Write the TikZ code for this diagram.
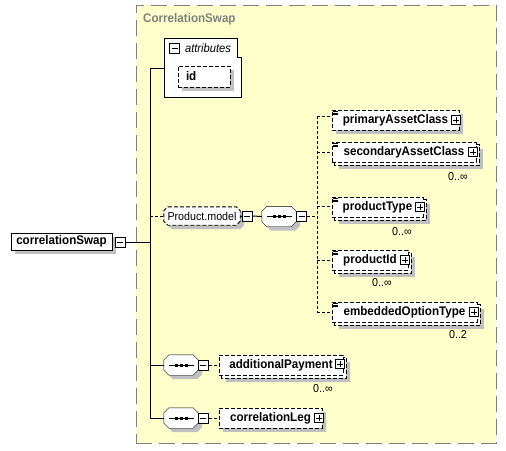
\documentclass[tikz,border=0pt]{standalone}
\usepackage{fontspec}
\setmainfont{Liberation Sans}
\newfontfamily\dfont[FakeStretch=0.93]{Liberation Sans}
\definecolor{ybg}{HTML}{FFFFCC}
\definecolor{ybd}{HTML}{808080}
\definecolor{shc}{HTML}{C0C0C0}
\pgfdeclarelayer{bgl}\pgfdeclarelayer{shl}\pgfdeclarelayer{bkl}
\pgfsetlayers{bgl,shl,bkl,main}
\newcommand{\octo}[2]{([xshift=#2]#1.north west) -- ([xshift=-#2]#1.north east) -- ([yshift=-#2]#1.north east) -- ([yshift=#2]#1.south east) -- ([xshift=-#2]#1.south east) -- ([xshift=#2]#1.south west) -- ([yshift=#2]#1.south west) -- ([yshift=-#2]#1.north west) -- cycle}
\newcommand{\boxshadow}[1]{\begin{pgfonlayer}{shl}\fill[shc] ([shift={(4pt,-4pt)}]#1.north west) rectangle ([shift={(4pt,-4pt)}]#1.south east);\end{pgfonlayer}}
\newcommand{\multiback}[1]{\begin{pgfonlayer}{shl}\fill[shc] ([shift={(7pt,-7pt)}]#1.north west) rectangle ([shift={(7pt,-7pt)}]#1.south east);\end{pgfonlayer}\begin{pgfonlayer}{bkl}\draw[fill=white, line width=0.9pt, dash pattern=on 4pt off 2pt] ([shift={(3pt,-3pt)}]#1.north west) rectangle ([shift={(3pt,-3pt)}]#1.south east);\end{pgfonlayer}}
\newcommand{\seqsym}[1]{\draw[line width=0.9pt] ([xshift=-12.5pt]#1.center) -- ([xshift=12.5pt]#1.center); \foreach \dx in {-5,0,5} \fill ([shift={(\dx pt-1.5pt,-1.5pt)}]#1.center) rectangle ([shift={(\dx pt+1.5pt,1.5pt)}]#1.center);}
\newcommand{\eqicon}[1]{\foreach \dy in {1.7,3.4,5.1} \draw[line width=0.6pt, solid] ([shift={(1.5pt,-\dy pt)}]#1.north west) -- ++(5,0);}
\newcommand{\octshadow}[2]{\begin{pgfonlayer}{shl}\fill[shc, transform canvas={shift={(4pt,-4pt)}}] \octo{#1}{#2};\end{pgfonlayer}}
\begin{document}
\begin{tikzpicture}[x=1pt,y=-1pt,line width=1pt,
  ebox/.style={draw, fill=white, inner sep=0pt, line width=0.9pt, font=\dfont\fontsize{12.5}{14}\selectfont\bfseries, dash pattern=on 4pt off 2pt},
  sbox/.style={draw, fill=white, inner sep=0pt, font=\dfont\fontsize{12.5}{14}\selectfont\bfseries},
  icbase/.style={draw, solid, fill=white, inner sep=0pt, minimum size=9pt, line width=1pt},
  minusic/.style={icbase, minimum size=10pt, path picture={\draw[line width=1pt] ([xshift=2pt]path picture bounding box.west) -- ([xshift=-2pt]path picture bounding box.east);}},
  plusic/.style={icbase, path picture={\draw[line width=1pt] ([xshift=1.8pt]path picture bounding box.west) -- ([xshift=-1.8pt]path picture bounding box.east); \draw[line width=1pt] ([yshift=-1.8pt]path picture bounding box.north) -- ([yshift=1.8pt]path picture bounding box.south);}},
  seqn/.style={minimum width=34pt, minimum height=20pt, inner sep=0pt},
  conn/.style={line width=1pt},
  dconn/.style={line width=0.9pt, dash pattern=on 3pt off 2pt},
  mult/.style={font=\dfont\fontsize{11.5}{13}\selectfont, inner sep=0pt}
]
\begin{pgfonlayer}{bgl}
\fill[white] (0,0) rectangle (506,450);
\node[draw=ybd, fill=ybg, dash pattern=on 16pt off 7pt, line width=1pt, minimum width=360pt, minimum height=438pt, inner sep=0pt] (grp) at (316,224) {};
\draw[fill=white] (164,38) -- (237,38) -- (237,57) -- (241,57) -- (241,97) -- (164,97) -- cycle;
\end{pgfonlayer}
\useasboundingbox (0,0) rectangle (506,450);

\node[anchor=west, text=ybd, font=\dfont\fontsize{12.5}{14}\selectfont\bfseries, inner sep=0pt] (ttl) at (143,19) {CorrelationSwap};

% root
\node[sbox, minimum width=101pt, minimum height=17pt] (cs) at (61.5,241.5) {correlationSwap};
\boxshadow{cs}
\node[minusic] (csm) at (120,242) {};

% attributes
\node[font=\dfont\fontsize{12}{14}\selectfont\itshape, inner sep=0pt] (attr) at (208,48) {attributes};
\node[minusic] (attrm) at (174.5,48.5) {};
\node[ebox, minimum height=21pt, text width=36pt, align=left, inner xsep=8pt] (id) at (204,76.5) {id};
\boxshadow{id}

% Product.model group
\node[minimum width=76pt, minimum height=18pt, inner sep=0pt] (pm) at (202,216) {};
\octshadow{pm}{4pt}
\draw[fill=white, line width=0.9pt, dash pattern=on 4pt off 2pt] \octo{pm}{4pt};
\node[font=\dfont\fontsize{11.5}{13}\selectfont, inner sep=0pt] (pmt) at (pm.center) {Product.model};
\node[minusic] (pmm) at (247,216) {};

\node[seqn] (sq1) at (279,216.5) {};
\octshadow{sq1}{5pt}
\draw[fill=white] \octo{sq1}{5pt};
\seqsym{sq1}
\node[minusic] (sq1m) at (301.5,216.5) {};

% children of sequence
\node[ebox, minimum width=127pt, minimum height=20pt] (pac) at (395.5,120) {primaryAssetClass};
\boxshadow{pac}
\eqicon{pac}
\node[plusic] (pacp) at (456,120) {};

\node[ebox, minimum width=144pt, minimum height=20pt] (sac) at (404,152) {secondaryAssetClass};
\multiback{sac}
\eqicon{sac}
\node[plusic] (sacp) at (473,152) {};
\node[mult] (sacl) at (458,177) {0..∞};

\node[ebox, minimum width=91pt, minimum height=20pt] (pt) at (377.5,207) {productType};
\multiback{pt}
\eqicon{pt}
\node[plusic] (ptp) at (420,207) {};
\node[mult] (ptl) at (402,232) {0..∞};

\node[ebox, minimum width=76pt, minimum height=20pt] (pid) at (370,260) {productId};
\multiback{pid}
\eqicon{pid}
\node[plusic] (pidp) at (405,260) {};
\node[mult] (pidl) at (382,283) {0..∞};

\node[ebox, minimum width=145pt, minimum height=20pt] (eot) at (404.5,312) {embeddedOptionType};
\multiback{eot}
\eqicon{eot}
\node[plusic] (eotp) at (474,312) {};
\node[mult] (eotl) at (458,335) {0..2};

% additionalPayment
\node[seqn] (sq2) at (181,365) {};
\octshadow{sq2}{5pt}
\draw[fill=white] \octo{sq2}{5pt};
\seqsym{sq2}
\node[minusic] (sq2m) at (203,365) {};
\node[ebox, minimum width=124pt, minimum height=20pt] (ap) at (281,365) {additionalPayment};
\multiback{ap}
\node[plusic] (app) at (340,364) {};
\node[mult] (apl) at (323,389) {0..∞};

% correlationLeg
\node[seqn] (sq3) at (181,418) {};
\octshadow{sq3}{5pt}
\draw[fill=white] \octo{sq3}{5pt};
\seqsym{sq3}
\node[minusic] (sq3m) at (203,418) {};
\node[ebox, minimum width=103pt, minimum height=20pt] (cl) at (270.5,418) {correlationLeg};
\boxshadow{cl}
\node[plusic] (clp) at (319,418) {};

% connectors
\coordinate (attrL) at (164,68);
\coordinate (spTop) at (150,68);
\coordinate (spMid) at (150,242);
\coordinate (spBot) at (150,418);
\coordinate (vTop) at (317,116);
\coordinate (vBot) at (317,312);
\draw[conn] (attrL) -- (spTop) -- (spBot) -- (sq3.west);
\draw[conn] (csm.east) -- (spMid);
\draw[dconn] (spMid |- pm.west) -- (pm.west);
\draw[conn] (pm.east) -- (pmm.west);
\draw[conn] (pmm.east) -- (sq1.west);
\draw[dconn] (sq1m.east) -- (vTop |- sq1m.east);
\draw[dconn] (vTop) -- (vBot);
\coordinate (pacin) at ([yshift=4pt]pac.west);
\draw[dconn] (vTop |- pacin) -- (pacin);
\draw[dconn] (vTop |- sac.west) -- (sac.west);
\coordinate (ptin) at ([yshift=1pt]pt.west);
\draw[dconn] (vTop |- ptin) -- (ptin);
\draw[dconn] (vTop |- pid.west) -- (pid.west);
\draw[dconn] (vTop |- eot.west) -- (eot.west);
\draw[conn] (spTop |- sq2.west) -- (sq2.west);
\draw[dconn] (sq2m.east) -- (ap.west);
\draw[dconn] (sq3m.east) -- (cl.west);
\end{tikzpicture}
\end{document}
